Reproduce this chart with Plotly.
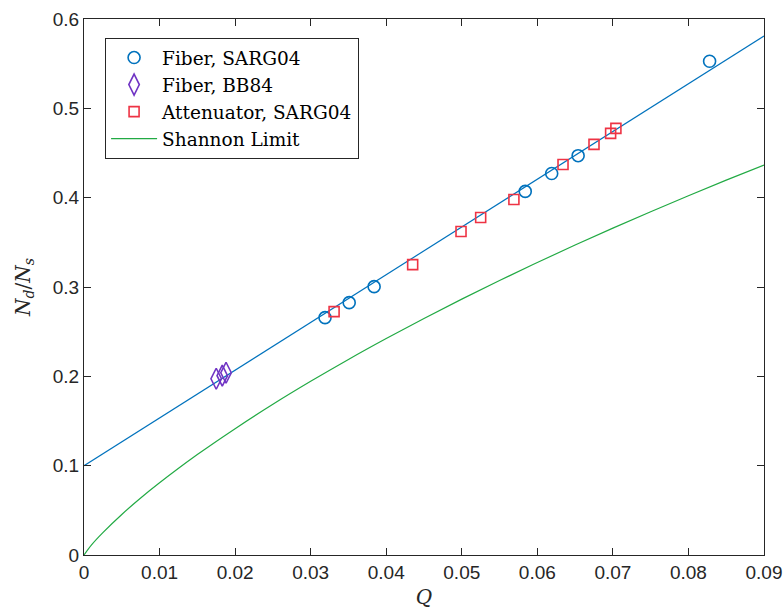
import plotly.graph_objects as go

# Fiber, SARG04
fiber_sarg_q = [0.0319, 0.0351, 0.0384, 0.0584, 0.0619, 0.0654, 0.0828]
fiber_sarg_y = [0.2657, 0.2825, 0.3004, 0.4070, 0.4270, 0.4470, 0.5527]

# Fiber, BB84
fiber_bb84_q = [0.0175, 0.0183, 0.0188]
fiber_bb84_y = [0.1973, 0.2007, 0.2040]

# Attenuator, SARG04
att_sarg_q = [0.0331, 0.0435, 0.0499, 0.0525, 0.0569, 0.0634, 0.0675, 0.0697, 0.0704]
att_sarg_y = [0.2724, 0.3251, 0.3621, 0.3778, 0.3980, 0.4372, 0.4596, 0.4720, 0.4776]

# Fit line (blue)
fit_q = [0.0, 0.09]
fit_y = [0.100, 0.581]

# Shannon limit (green)
shannon_q = [0.0, 0.001, 0.0025, 0.005, 0.0075, 0.01, 0.015, 0.02, 0.025, 0.03,
             0.035, 0.04, 0.045, 0.05, 0.055, 0.06, 0.065, 0.07, 0.075, 0.08,
             0.085, 0.09]
shannon_y = [0.0, 0.0114, 0.0251, 0.0454, 0.0638, 0.0808, 0.1124, 0.1414, 0.1687,
             0.1944, 0.2189, 0.2423, 0.2648, 0.2864, 0.3073, 0.3274, 0.3470,
             0.3659, 0.3843, 0.4022, 0.4196, 0.4365]

x_ticks = [0, 0.01, 0.02, 0.03, 0.04, 0.05, 0.06, 0.07, 0.08, 0.09]
x_tick_text = ["0", "0.01", "0.02", "0.03", "0.04", "0.05", "0.06", "0.07", "0.08", "0.09"]
y_ticks = [0, 0.1, 0.2, 0.3, 0.4, 0.5, 0.6]
y_tick_text = ["0", "0.1", "0.2", "0.3", "0.4", "0.5", "0.6"]

BLUE = "#0072BD"
PURPLE = "#7034C4"
RED = "#EE3344"
GREEN = "#22AA44"
AXIS = "#262626"

fig = go.Figure()

fig.add_trace(go.Scatter(x=fit_q, y=fit_y, mode="lines",
                         line=dict(color=BLUE, width=1.2), showlegend=False,
                         hoverinfo="skip"))
fig.add_trace(go.Scatter(x=shannon_q, y=shannon_y, mode="lines", line_shape="spline",
                         line=dict(color=GREEN, width=1.2), showlegend=False))

fig.add_trace(go.Scatter(x=fiber_sarg_q, y=fiber_sarg_y, mode="markers",
                         name="Fiber, SARG04",
                         marker=dict(symbol="circle-open", size=12, color=BLUE,
                                     line=dict(width=1.6, color=BLUE))))
fig.add_trace(go.Scatter(x=fiber_bb84_q, y=fiber_bb84_y, mode="markers",
                         name="Fiber, BB84",
                         marker=dict(symbol="diamond-tall-open", size=15, color=PURPLE,
                                     line=dict(width=1.6, color=PURPLE))))
fig.add_trace(go.Scatter(x=att_sarg_q, y=att_sarg_y, mode="markers",
                         name="Attenuator, SARG04",
                         marker=dict(symbol="square-open", size=10, color=RED,
                                     line=dict(width=1.6, color=RED))))
# legend-only entry for Shannon limit
fig.add_trace(go.Scatter(x=[None], y=[None], mode="lines", name="Shannon Limit",
                         line=dict(color=GREEN, width=1.2)))

axis_common = dict(
    showline=True, linecolor=AXIS, linewidth=1, mirror="ticks",
    ticks="inside", ticklen=7, tickwidth=1, tickcolor=AXIS,
    showgrid=False, zeroline=False, automargin=False,
    tickfont=dict(family="Liberation Sans, Arial, sans-serif", size=19, color=AXIS),
)

fig.update_layout(
    width=783, height=614,
    margin=dict(l=84, r=19, t=19, b=59),
    paper_bgcolor="white", plot_bgcolor="white",
    xaxis=dict(range=[0, 0.09], tickvals=x_ticks, ticktext=x_tick_text,
               title=dict(text="<i>Q</i>", standoff=8,
                          font=dict(family="DejaVu Serif, serif", size=20, color=AXIS)),
               **axis_common),
    yaxis=dict(range=[0, 0.6], tickvals=y_ticks, ticktext=y_tick_text,
               title=dict(text="<i>N</i><sub><i>d</i></sub>/<i>N</i><sub><i>s</i></sub>",
                          standoff=16,
                          font=dict(family="DejaVu Serif, serif", size=20, color=AXIS)),
               **axis_common),
    legend=dict(x=0.031, y=0.9645, xanchor="left", yanchor="top",
                bgcolor="white", bordercolor=AXIS, borderwidth=1,
                font=dict(family="DejaVu Serif, serif", size=18.5, color="black"),
                tracegroupgap=0, itemwidth=46),
    showlegend=True,
)

fig.write_html("out.html")
